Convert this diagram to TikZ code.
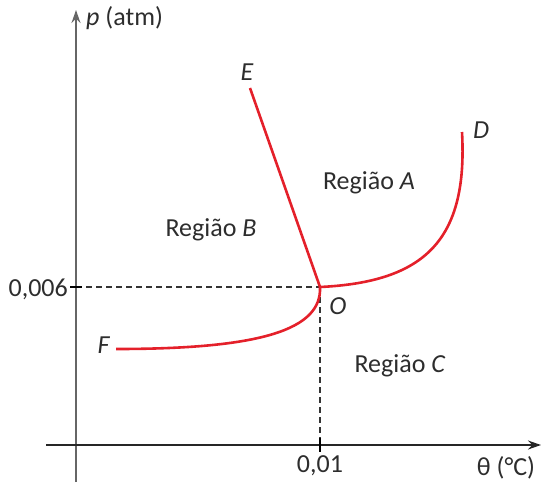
\documentclass[tikz,border=0pt]{standalone}
\usepackage{fontspec}
\setmainfont{Carlito}
\usetikzlibrary{arrows.meta}
\definecolor{curvered}{RGB}{228,32,42}
\definecolor{txt}{RGB}{45,45,45}
\tikzset{
  lbl/.style={text=txt,font=\fontsize{26}{30}\selectfont,inner sep=0pt},
  phase/.style={curvered,line width=2.6pt},
  guide/.style={black!80,line width=1.2pt,dash pattern=on 6pt off 4pt},
  axis/.style={line width=1.5pt,-{Stealth[length=13pt,width=9pt]}},
  tick/.style={line width=1.3pt}
}
\begin{document}
\begin{tikzpicture}[x=1pt,y=-1pt]
\useasboundingbox (0,0) rectangle (543,485);
% axes
\coordinate (yb) at (76,482);
\coordinate (yt) at (76,10);
\coordinate (xl) at (46,445);
\coordinate (xr) at (541,445);
\draw[axis,black!60] (yb) -- (yt);
\draw[axis,black!85] (xl) -- (xr);
% triple point
\coordinate (O) at (320,287);
\coordinate (ya) at (76,287);
\coordinate (xa) at (320,445);
\draw[guide] (ya) -- (O);
\draw[guide] (O) -- (xa);
\draw[tick] (70,287) -- (82,287);
\draw[tick] (320,438) -- (320,452);
% curves
\coordinate (E) at (250,88);
\coordinate (D) at (462,132);
\coordinate (F) at (116,349);
\draw[phase] (E) -- (O);
\draw[phase] (O) .. controls (425,282) and (468,240) .. (D);
\draw[phase] (F) .. controls (260,349) and (322,330) .. (O);
% labels
\node[lbl,anchor=west] (pl) at (86,18) {\textit{p} (atm)};
\node[lbl,anchor=east] (yl) at (68,289) {0,006};
\node[lbl] (xlab) at (320,466) {0,01};
\node[lbl] (tl) at (506,468) {θ (°C)};
\node[lbl] (lE) at (247,72) {\textit{E}};
\node[lbl] (lD) at (481,130) {\textit{D}};
\node[lbl] (lF) at (104,345) {\textit{F}};
\node[lbl] (lO) at (338,306) {\textit{O}};
\node[lbl] (rA) at (369,183) {Região \textit{A}};
\node[lbl] (rB) at (211,230) {Região \textit{B}};
\node[lbl] (rC) at (400,366) {Região \textit{C}};
\end{tikzpicture}
\end{document}
